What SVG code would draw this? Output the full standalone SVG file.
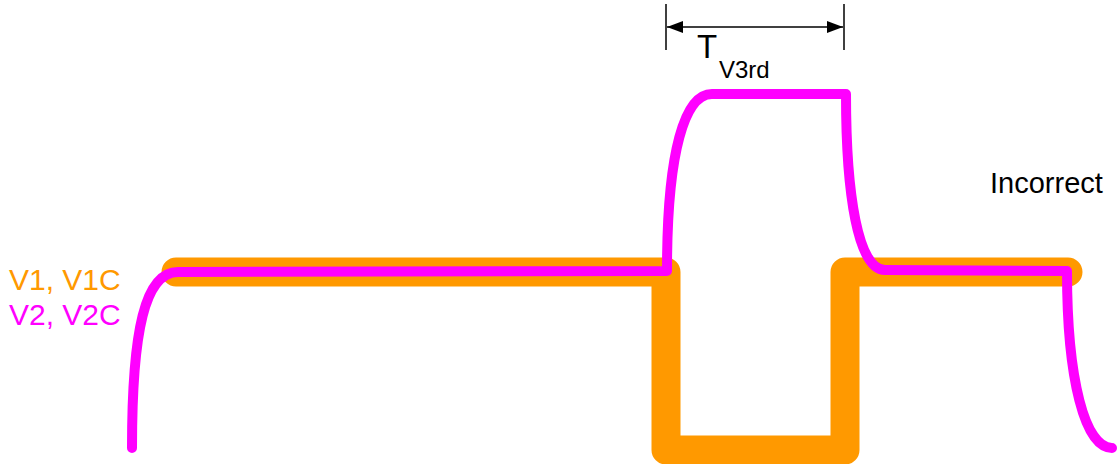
<svg xmlns="http://www.w3.org/2000/svg" width="1117" height="464" viewBox="0 0 1117 464">
<style>
.lbl{font-family:"Liberation Sans",Arial,sans-serif;font-size:29px}
.orange{fill:none;stroke:#FF9900;stroke-width:29;stroke-linejoin:round;stroke-linecap:round}
.mag{fill:none;stroke:#FF00FF;stroke-width:10;stroke-linejoin:round;stroke-linecap:round}
.dim{fill:none;stroke:#000;stroke-width:1.5}
</style>
<defs>
<marker id="ah" viewBox="0 0 16 12" refX="16" refY="6" markerWidth="16" markerHeight="12" markerUnits="userSpaceOnUse" orient="auto-start-reverse">
<path d="M0,0 L16,6 L0,12 Z" fill="#000"/>
</marker>
</defs>
<rect width="1117" height="464" fill="#fff"/>
<g id="waveforms">
<path id="v1" class="orange" d="M176,272 L666,272 L666,450 L845,450 L845,272 L1068,272"/>
<path id="v2" class="mag" d="M132,448 C132,330 145,272 178,272 L667,271 C667,150 685,94 712,94 L846,94 C846,195 858,270 885,270 L1067,271 C1067,380 1085,448 1112,448"/>
</g>
<g id="dimension">
<line class="dim" x1="666" y1="4" x2="666" y2="50"/>
<line class="dim" x1="844" y1="4" x2="844" y2="50"/>
<line class="dim" x1="667" y1="27" x2="843" y2="27" marker-start="url(#ah)" marker-end="url(#ah)"/>
<text class="lbl" x="697" y="58" style="font-size:33px">T<tspan x="719" y="78" style="font-size:24px">V3rd</tspan></text>
</g>
<g id="labels">
<text class="lbl" x="9" y="290" fill="#FF9900" style="font-size:30px">V1, V1C</text>
<text class="lbl" x="9" y="325" fill="#FF00FF" style="font-size:30px">V2, V2C</text>
<text class="lbl" x="990" y="193" fill="#000">Incorrect</text>
</g>
</svg>
